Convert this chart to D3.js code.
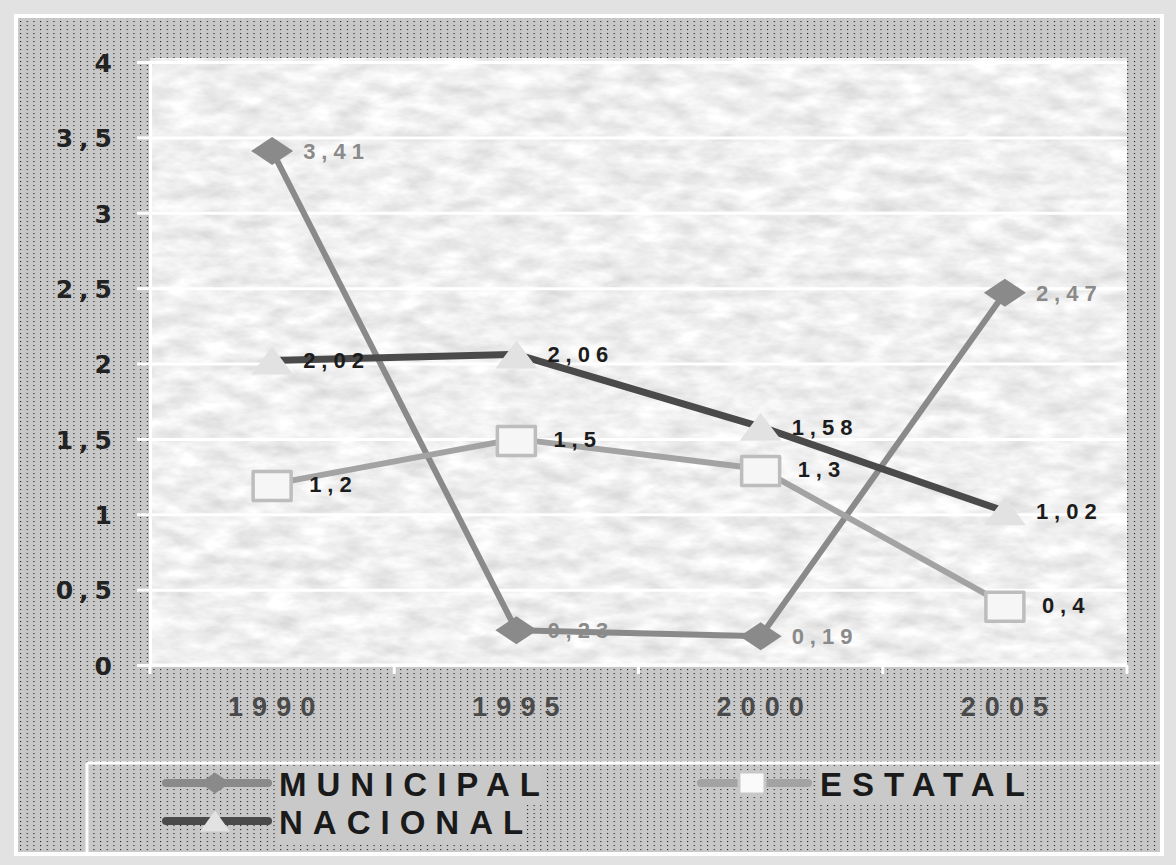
<!DOCTYPE html>
<html>
<head>
<meta charset="utf-8">
<script src="https://cdn.jsdelivr.net/npm/d3@7"></script>
<style>
  html, body { margin: 0; padding: 0; background: #e2e2e2; }
  svg { display: block; }
</style>
</head>
<body>
<svg id="chart" width="1176" height="865"></svg>
<script>
// ---- data ----
const categories = ["1990", "1995", "2000", "2005"];
const seriesNames = ["MUNICIPAL", "ESTATAL", "NACIONAL"];
const municipal = [3.41, 0.23, 0.19, 2.47];
const estatal = [1.2, 1.5, 1.3, 0.4];
const nacional = [2.02, 2.06, 1.58, 1.02];
const yTicks = [0, 0.5, 1, 1.5, 2, 2.5, 3, 3.5, 4];
const yTickLabels = ["0", "0,5", "1", "1,5", "2", "2,5", "3", "3,5", "4"];

const W = 1176, H = 865;
const svg = d3.select("#chart");
const defs = svg.append("defs");

// dotted background pattern
const pat = defs.append("pattern").attr("id", "dots")
  .attr("patternUnits", "userSpaceOnUse").attr("width", 6.67).attr("height", 4)
  .attr("x", 20).attr("y", 21);
pat.append("rect").attr("width", 6.67).attr("height", 4).attr("fill", "#c8c8c8");
pat.append("rect").attr("x", 0).attr("y", 0).attr("width", 1.1).attr("height", 1.1).attr("fill", "#1e1e1e");

// mottled texture for plot area
const filt = defs.append("filter").attr("id", "marble")
  .attr("x", 0).attr("y", 0).attr("width", 1).attr("height", 1)
  .attr("color-interpolation-filters", "sRGB");
filt.append("feTurbulence").attr("type", "fractalNoise")
  .attr("baseFrequency", "0.03 0.07").attr("numOctaves", 4).attr("seed", 7).attr("result", "n");
filt.append("feColorMatrix").attr("type", "matrix")
  .attr("values", "0.22 0 0 0 0.83  0.22 0 0 0 0.83  0.22 0 0 0 0.83  0 0 0 0 1");

// outer frame
svg.append("rect").attr("x", 0).attr("y", 0).attr("width", W).attr("height", H).attr("fill", "#e2e2e2");
svg.append("rect").attr("x", 14).attr("y", 14).attr("width", 1150).attr("height", 842).attr("fill", "#ffffff");
svg.append("rect").attr("x", 18).attr("y", 18).attr("width", 1142).attr("height", 834).attr("fill", "url(#dots)");

// scales
const plot = { left: 150, right: 1127, top: 62, bottom: 665 };
const x = d3.scaleBand().domain(categories).range([plot.left, plot.right]).padding(0);
const y = d3.scaleLinear().domain([0, 4]).range([plot.bottom, plot.top]);
const cx = c => x(c) + x.bandwidth() / 2;

// plot area
svg.append("rect").attr("x", plot.left).attr("y", plot.top - 4)
  .attr("width", plot.right - plot.left).attr("height", plot.bottom - plot.top + 4)
  .attr("fill", "#efefef").attr("filter", "url(#marble)");

// gridlines
const grid = svg.append("g").attr("transform", `translate(${plot.left},0)`)
  .call(d3.axisLeft(y).tickValues(yTicks).tickSize(-(plot.right - plot.left)).tickFormat(""));
grid.select(".domain").remove();
grid.selectAll(".tick line").attr("stroke", "#ffffff").attr("stroke-width", 3);

// y axis
const yAxis = svg.append("g").attr("transform", `translate(${plot.left},0)`)
  .call(d3.axisLeft(y).tickValues(yTicks).tickSize(13).tickPadding(0)
    .tickFormat((d, i) => yTickLabels[i]));
yAxis.select(".domain").attr("stroke", "#ffffff").attr("stroke-width", 3);
yAxis.selectAll(".tick line").attr("stroke", "#ffffff").attr("stroke-width", 3);
yAxis.selectAll(".tick text")
  .attr("x", -32).attr("dy", "0.37em")
  .attr("font-family", "'DejaVu Sans', sans-serif").attr("font-weight", "bold")
  .attr("font-size", 25).attr("letter-spacing", 6).attr("fill", "#222222");

// x axis: labels at band centres, ticks at band edges
const xAxis = svg.append("g").attr("transform", `translate(0,${plot.bottom})`)
  .call(d3.axisBottom(x).tickSize(0).tickPadding(0));
xAxis.select(".domain").remove();
xAxis.selectAll(".tick text")
  .attr("y", 51).attr("dy", 0).attr("dx", 4)
  .attr("font-family", "'Liberation Sans', Arial, sans-serif").attr("font-weight", "bold")
  .attr("font-size", 27).attr("letter-spacing", 9).attr("fill", "#4a4a4a");
const edges = categories.map(c => x(c)).concat([plot.right]);
svg.append("line").attr("x1", plot.left).attr("x2", plot.right)
  .attr("y1", plot.bottom).attr("y2", plot.bottom)
  .attr("stroke", "#ffffff").attr("stroke-width", 3);
svg.append("g").selectAll("line").data(edges).join("line")
  .attr("x1", d => d).attr("x2", d => d)
  .attr("y1", plot.bottom).attr("y2", plot.bottom + 9)
  .attr("stroke", "#ffffff").attr("stroke-width", 3);

// series
const series = [
  { name: seriesNames[0], values: municipal, line: "#8a8a8a", width: 6, marker: "diamond", fill: "#8a8a8a", stroke: "none", label: "#8a8a8a", dx: 31 },
  { name: seriesNames[1], values: estatal, line: "#a3a3a3", width: 6, marker: "square", fill: "#f6f6f6", stroke: "#bdbdbd", label: "#1c1c1c", dx: 37 },
  { name: seriesNames[2], values: nacional, line: "#4a4a4a", width: 7, marker: "triangle", fill: "#e2e2e2", stroke: "none", label: "#1c1c1c", dx: 31 }
];

function markerPath(type, px, py, w, h) {
  if (type === "diamond") {
    return `M${px - w / 2},${py} L${px},${py - h / 2} L${px + w / 2},${py} L${px},${py + h / 2} Z`;
  }
  if (type === "triangle") {
    return `M${px - w / 2},${py + h / 2} L${px},${py - h / 2} L${px + w / 2},${py + h / 2} Z`;
  }
  return `M${px - w / 2},${py - h / 2} H${px + w / 2} V${py + h / 2} H${px - w / 2} Z`;
}

const line = d3.line().x((d, i) => cx(categories[i])).y(d => y(d));

const sg = svg.append("g");
series.forEach(s => {
  sg.append("path").attr("d", line(s.values)).attr("fill", "none")
    .attr("stroke", s.line).attr("stroke-width", s.width).attr("stroke-linejoin", "round");
});
series.forEach(s => {
  sg.selectAll(null).data(s.values).join("path")
    .attr("d", (d, i) => {
      const px = cx(categories[i]), py = y(d);
      if (s.marker === "diamond") return markerPath("diamond", px, py, 42, 28);
      if (s.marker === "triangle") return markerPath("triangle", px, py, 42, 28);
      return markerPath("square", px, py + 2, 38, 29);
    })
    .attr("fill", s.fill).attr("stroke", s.stroke)
    .attr("stroke-width", s.marker === "square" ? 3.5 : 0)
    .attr("stroke-linejoin", "round");
});

// data labels
const fmt = v => String(v).replace(".", ",");
series.forEach(s => {
  sg.selectAll(null).data(s.values).join("text")
    .attr("x", (d, i) => cx(categories[i]) + s.dx)
    .attr("y", d => y(d) + 8)
    .attr("font-family", "'Liberation Sans', Arial, sans-serif").attr("font-weight", "bold")
    .attr("font-size", 22).attr("letter-spacing", 6)
    .attr("fill", s.label)
    .text(d => fmt(d));
});

// legend
const lg = svg.append("g");
lg.append("line").attr("x1", 87).attr("x2", 1160).attr("y1", 763).attr("y2", 763)
  .attr("stroke", "#ffffff").attr("stroke-width", 3);
lg.append("line").attr("x1", 87).attr("x2", 87).attr("y1", 763).attr("y2", 852)
  .attr("stroke", "#ffffff").attr("stroke-width", 3);

const legendItems = [
  { s: series[0], lx1: 166, lx2: 268, mx: 215, ly: 783, tx: 279 },
  { s: series[1], lx1: 701, lx2: 808, mx: 752, ly: 783, tx: 820 },
  { s: series[2], lx1: 166, lx2: 268, mx: 215, ly: 821, tx: 279 }
];
legendItems.forEach(it => {
  lg.append("line").attr("x1", it.lx1).attr("x2", it.lx2).attr("y1", it.ly).attr("y2", it.ly)
    .attr("stroke", it.s.line).attr("stroke-width", 8).attr("stroke-linecap", "round");
  if (it.s.marker === "square") {
    lg.append("path").attr("d", markerPath("square", it.mx, it.ly, 26, 22))
      .attr("fill", "#fafafa").attr("stroke", "#c7c7c7").attr("stroke-width", 3);
  } else {
    lg.append("path").attr("d", markerPath(it.s.marker, it.mx, it.ly, 30, 21))
      .attr("fill", it.s.fill);
  }
  const t = lg.append("text").attr("x", it.tx).attr("y", it.ly + 13)
    .attr("font-family", "'Liberation Sans', Arial, sans-serif").attr("font-weight", "bold")
    .attr("font-size", 33).attr("letter-spacing", 10).attr("fill", "#1a1a1a")
    .text(it.s.name);
  const bb = t.node().getBBox();
  lg.insert("rect", () => t.node())
    .attr("x", bb.x - 2).attr("y", it.ly - 17).attr("width", bb.width - 6).attr("height", 39)
    .attr("fill", "#c9c9c9");
});
</script>
</body>
</html>
